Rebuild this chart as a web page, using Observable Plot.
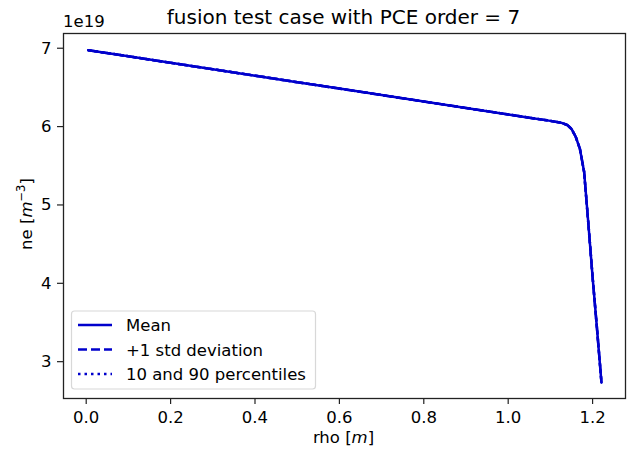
<!DOCTYPE html>
<html>
<head>
<meta charset="utf-8">
<script src="https://cdn.jsdelivr.net/npm/d3@7"></script>
<script src="https://cdn.jsdelivr.net/npm/@observablehq/plot@0.6"></script>
<style>
  html, body { margin: 0; padding: 0; background: #fff; }
  svg { font-family: "DejaVu Sans", sans-serif; }
</style>
</head>
<body>
<div id="chart"></div>
<script>
const rho = [0.005, 0.1, 0.2, 0.3, 0.4, 0.5, 0.6, 0.7, 0.8, 0.9, 1.0, 1.05, 1.1, 1.125, 1.14, 1.15, 1.16, 1.17, 1.18, 1.19, 1.2, 1.21, 1.221];
const neMean = [6.975, 6.897, 6.814, 6.732, 6.650, 6.567, 6.485, 6.402, 6.320, 6.238, 6.155, 6.114, 6.073, 6.05, 6.02, 5.97, 5.87, 5.715, 5.42, 4.76, 4.08, 3.45, 2.735];
const neStd = neMean.slice();
const nePct = neMean.slice();
const xTicks = [0.0, 0.2, 0.4, 0.6, 0.8, 1.0, 1.2];
const yTicks = [3, 4, 5, 6, 7];
const legendLabels = ["Mean", "+1 std deviation", "10 and 90 percentiles"];

const mean = rho.map((r, i) => ({rho: r, ne: neMean[i]}));
const std = rho.map((r, i) => ({rho: r, ne: neStd[i]}));
const pct = rho.map((r, i) => ({rho: r, ne: nePct[i]}));

const W = 633, H = 453;
const mL = 63, mR = 8, mT = 33, mB = 55;
const blue = "#0000cc";
const FS = 16.5;
const LW = 2.5;

const plot = Plot.plot({
  width: W,
  height: H,
  marginLeft: mL,
  marginRight: mR,
  marginTop: mT,
  marginBottom: mB,
  style: {fontFamily: "DejaVu Sans, sans-serif", fontSize: FS + "px", color: "#000", background: "#fff"},
  x: {domain: [-0.0538, 1.278], label: null},
  y: {domain: [2.53, 7.188], label: null},
  marks: [
    Plot.axisX({ticks: xTicks, tickFormat: d => d.toFixed(1), tickSize: 6, tickPadding: 7, fontSize: FS, stroke: "#222", strokeWidth: 1.2, strokeOpacity: 1, label: null}),
    Plot.axisY({ticks: yTicks, tickFormat: d => d.toFixed(0), tickSize: 6, tickPadding: 6, fontSize: FS, stroke: "#222", strokeWidth: 1.2, strokeOpacity: 1, label: null}),
    Plot.line(mean, {x: "rho", y: "ne", stroke: blue, strokeWidth: LW}),
    Plot.line(std, {x: "rho", y: "ne", stroke: blue, strokeWidth: LW, strokeDasharray: "9,4"}),
    Plot.line(pct, {x: "rho", y: "ne", stroke: blue, strokeWidth: LW, strokeDasharray: "2.5,4"}),
    Plot.frame({stroke: "#222", strokeWidth: 1.3})
  ]
});

document.getElementById("chart").appendChild(plot);
const svg = d3.select(plot);

// Title
svg.append("text").attr("x", 343.5).attr("y", 24).attr("text-anchor", "middle")
  .attr("font-size", 20).attr("fill", "#000").text("fusion test case with PCE order = 7");
// offset text
svg.append("text").attr("x", 63).attr("y", 27).attr("text-anchor", "start")
  .attr("font-size", FS).attr("fill", "#000").text("1e19");
// x label
const xl = svg.append("text").attr("x", 343.5).attr("y", 443).attr("text-anchor", "middle")
  .attr("font-size", FS).attr("fill", "#000");
xl.append("tspan").text("rho [");
xl.append("tspan").attr("font-style", "italic").text("m");
xl.append("tspan").text("]");
// y label
const yl = svg.append("text").attr("transform", "translate(32,214) rotate(-90)").attr("text-anchor", "middle")
  .attr("font-size", FS).attr("fill", "#000");
yl.append("tspan").text("ne [");
yl.append("tspan").attr("font-style", "italic").text("m");
yl.append("tspan").attr("font-size", 11.5).attr("dy", -7).text("\u22123");
yl.append("tspan").attr("dy", 7).text("]");

// Legend
const lg = svg.append("g");
lg.append("rect").attr("x", 71.5).attr("y", 311).attr("width", 244).attr("height", 78)
  .attr("rx", 3).attr("fill", "#fff").attr("fill-opacity", 0.8).attr("stroke", "#d8d8d8").attr("stroke-width", 1.2);
const dashes = [null, "9,4", "2.5,4"];
legendLabels.forEach((lab, i) => {
  const y = 325 + i * 24.5;
  lg.append("line").attr("x1", 78).attr("x2", 112).attr("y1", y).attr("y2", y)
    .attr("stroke", blue).attr("stroke-width", LW).attr("stroke-dasharray", dashes[i]);
  lg.append("text").attr("x", 126).attr("y", y + 6).attr("text-anchor", "start")
    .attr("font-size", FS).attr("fill", "#000").text(lab);
});
</script>
</body>
</html>
